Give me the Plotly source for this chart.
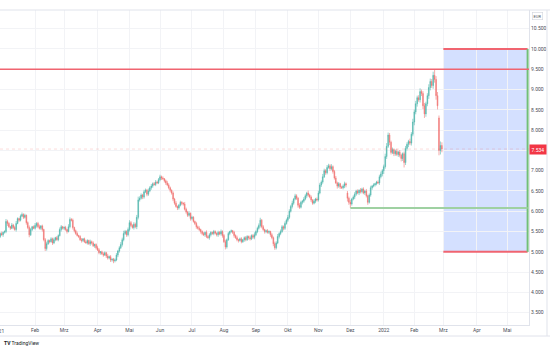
import pandas as pd
import plotly.graph_objects as go

# Daily closes (EUR), Dec 28 2020 .. Feb 28 2022, one value per weekday
closes = [
    5.38, 5.45, 5.42, 5.48,
    5.50, 5.75, 5.70, 5.62, 5.58, 5.66, 5.60, 5.55, 5.70, 5.82, 5.78, 5.88, 5.92, 5.85, 5.90, 5.72, 5.60, 5.42, 5.55, 5.62, 5.58,
    5.65, 5.70, 5.62, 5.58, 5.64, 5.55, 5.30, 5.08, 5.20, 5.28, 5.25, 5.32, 5.22, 5.30, 5.35, 5.30, 5.40, 5.55, 5.62, 5.58,
    5.60, 5.55, 5.50, 5.62, 5.80, 5.78, 5.60, 5.52, 5.45, 5.40, 5.38, 5.30, 5.28, 5.32, 5.25, 5.22, 5.28, 5.20, 5.25, 5.22, 5.15, 5.18, 5.10,
    5.05, 4.98, 5.00, 4.95, 4.92, 4.98, 4.90, 4.85, 4.88, 4.80, 4.82, 4.78, 4.80, 4.92, 5.02, 5.10, 5.18, 5.30, 5.45, 5.50, 5.42, 5.55,
    5.72, 5.65, 5.60, 5.68, 5.62, 5.85, 6.28, 6.32, 6.40, 6.35, 6.48, 6.52, 6.42, 6.50, 6.58, 6.62, 6.68, 6.66, 6.72, 6.70, 6.78,
    6.85, 6.82, 6.80, 6.75, 6.70, 6.65, 6.58, 6.52, 6.45, 6.30, 6.20, 6.12, 6.08, 6.15, 6.22, 6.20, 6.18, 6.05, 5.98, 5.90, 5.95, 5.82,
    5.85, 5.75, 5.70, 5.62, 5.58, 5.55, 5.50, 5.45, 5.42, 5.48, 5.38, 5.35, 5.42, 5.48, 5.45, 5.50, 5.46, 5.42, 5.48, 5.44, 5.50, 5.40,
    5.25, 5.12, 5.30, 5.45, 5.50, 5.52, 5.48, 5.40, 5.35, 5.30, 5.28, 5.32, 5.25, 5.30, 5.35, 5.30, 5.38, 5.35, 5.32, 5.40, 5.36, 5.42,
    5.50, 5.58, 5.65, 5.78, 5.62, 5.55, 5.50, 5.52, 5.48, 5.50, 5.42, 5.35, 5.20, 5.10, 5.22, 5.38, 5.45, 5.50, 5.62, 5.58, 5.70, 5.78,
    5.85, 6.00, 6.12, 6.20, 6.30, 6.38, 6.32, 6.15, 6.10, 6.22, 6.25, 6.30, 6.38, 6.45, 6.40, 6.35, 6.28, 6.20, 6.25, 6.30, 6.28,
    6.45, 6.65, 6.72, 6.85, 7.00, 6.95, 7.08, 7.12, 7.05, 7.10, 6.98, 6.82, 6.70, 6.62, 6.68, 6.60, 6.58, 6.62, 6.68, 6.65, 6.32, 6.22,
    6.18, 6.30, 6.35, 6.42, 6.50, 6.45, 6.52, 6.48, 6.55, 6.45, 6.50, 6.38, 6.22, 6.40, 6.58, 6.62, 6.65, 6.68, 6.72, 6.70, 6.85, 6.92, 7.00,
    7.10, 7.35, 7.60, 7.88, 7.70, 7.45, 7.52, 7.42, 7.48, 7.40, 7.46, 7.38, 7.30, 7.42, 7.20, 7.55, 7.65, 7.72, 7.68, 7.90, 8.20,
    8.45, 8.65, 8.80, 8.75, 8.95, 8.90, 8.60, 8.40, 8.65, 8.85, 9.05, 9.20, 9.10, 9.35, 9.25, 8.85, 8.60, 7.50, 7.62, 7.534,
]
first_open = 5.35
# Sessions that opened away from the previous close (bar index -> open)
gap_opens = {240: 6.45, 303: 8.30}

# Wick lengths above / below the candle body, in cents
upper_wicks = [
    4, 3, 5, 2, 3, 6, 4, 3, 2, 5, 3, 4, 6, 3, 2, 4, 5, 3, 4, 2,
    3, 5, 4, 2, 3, 6, 3, 4, 5, 2, 3, 2, 4, 5, 3, 2, 4, 3, 5, 2,
    4, 3, 5, 4, 2, 3, 4, 2, 6, 5, 3, 4, 2, 3, 5, 2, 3, 4, 2, 3,
    4, 3, 2, 5, 3, 4, 2, 3, 5, 4, 2, 3, 4, 3, 2, 5, 3, 4, 2, 3,
    4, 5, 3, 4, 6, 5, 7, 4, 3, 5, 6, 4, 3, 5, 4, 6, 8, 5, 4, 3,
    5, 4, 3, 6, 4, 5, 3, 4, 5, 3, 4, 5, 3, 4, 2, 3, 5, 4, 3, 2,
    4, 3, 5, 2, 3, 4, 3, 2, 5, 4, 3, 5, 2, 4, 3, 2, 4, 3, 5, 2,
    3, 4, 2, 5, 3, 4, 3, 2, 4, 3, 2, 4, 3, 5, 3, 4, 5, 3, 4, 2,
    3, 2, 4, 3, 5, 2, 3, 4, 2, 3, 4, 3, 2, 5, 3, 4, 6, 3, 4, 5,
    6, 3, 4, 2, 3, 4, 3, 2, 4, 3, 5, 4, 6, 3, 5, 4, 3, 5, 4, 6,
    5, 4, 6, 3, 5, 4, 3, 5, 4, 3, 5, 4, 3, 6, 3, 4, 2, 5, 3, 4,
    6, 5, 4, 7, 5, 4, 6, 5, 4, 6, 3, 4, 5, 3, 4, 2, 3, 4, 5, 3,
    5, 4, 6, 3, 4, 5, 3, 4, 2, 5, 3, 4, 2, 5, 3, 4, 5, 3, 4, 2,
    3, 4, 5, 6, 4, 5, 7, 8, 6, 5, 4, 5, 3, 4, 6, 3, 5, 4, 3, 5,
    6, 5, 4, 7, 5, 8, 6, 7, 5, 6, 8, 5, 6, 7, 5, 6, 8, 7, 6, 9,
    15, 8, 9, 6, 10, 8,
]
lower_wicks = [
    3, 4, 2, 5, 3, 4, 6, 3, 4, 2, 4, 3, 5, 2, 4, 3, 2, 4, 3, 5,
    4, 6, 3, 4, 2, 3, 5, 4, 3, 4, 5, 4, 6, 5, 3, 4, 2, 5, 3, 4,
    3, 4, 2, 5, 3, 4, 3, 5, 2, 4, 3, 5, 4, 3, 2, 4, 3, 5, 4, 3,
    2, 4, 3, 5, 4, 3, 5, 4, 3, 4, 5, 3, 4, 2, 5, 4, 3, 5, 4, 6,
    4, 3, 5, 4, 3, 5, 4, 3, 5, 4, 5, 4, 3, 5, 4, 6, 5, 4, 3, 5,
    4, 3, 5, 4, 3, 5, 4, 3, 4, 3, 3, 4, 5, 3, 4, 5, 3, 4, 5, 4,
    5, 4, 3, 5, 4, 3, 5, 4, 3, 4, 4, 3, 5, 4, 3, 4, 5, 3, 4, 5,
    4, 3, 5, 4, 3, 5, 4, 3, 4, 3, 4, 5, 3, 4, 5, 3, 6, 4, 3, 4,
    3, 4, 5, 3, 4, 5, 3, 4, 3, 5, 4, 3, 5, 4, 3, 4, 5, 3, 4, 3,
    5, 4, 3, 5, 4, 3, 4, 5, 4, 6, 5, 4, 3, 5, 4, 3, 5, 4, 3, 4,
    4, 3, 5, 4, 3, 4, 6, 4, 3, 5, 4, 3, 5, 4, 3, 5, 4, 3, 5, 4,
    4, 3, 5, 4, 3, 5, 4, 3, 5, 4, 5, 4, 3, 6, 4, 5, 3, 4, 5, 6,
    8, 6, 10, 4, 3, 5, 4, 3, 5, 4, 4, 3, 5, 4, 6, 3, 4, 5, 3, 4,
    4, 3, 5, 4, 6, 8, 5, 6, 4, 7, 5, 4, 6, 5, 4, 6, 5, 7, 6, 12,
    6, 5, 7, 5, 6, 5, 8, 6, 7, 5, 7, 6, 8, 10, 7, 6, 8, 7, 6, 8,
    8, 10, 9, 12, 10, 8,
]

# Month ticks (German labels); the year tick of 2021 sits at the left edge
tick_dates = ["2021-02-01", "2021-03-01", "2021-04-01", "2021-05-03",
              "2021-06-01", "2021-07-01", "2021-08-02", "2021-09-01", "2021-10-01",
              "2021-11-01", "2021-12-01", "2022-01-03", "2022-02-01", "2022-03-01",
              "2022-04-01", "2022-05-02"]
tick_labels = ["Feb", "Mrz", "Apr", "Mai", "Jun", "Jul", "Aug", "Sep", "Okt",
               "Nov", "Dez", "2022", "Feb", "Mrz", "Apr", "Mai"]
first_year_label = "2021"

# Drawing levels
resistance = 9.5
support = 6.08
support_start = "2021-12-01"
zone_top, zone_bottom = 10.0, 5.0
zone_start, zone_end = "2022-03-01", "2022-05-20"
last_price = 7.534

dates = pd.bdate_range("2020-12-28", periods=len(closes))
opens = []
for i in range(len(closes)):
    if i in gap_opens:
        opens.append(gap_opens[i])
    elif i == 0:
        opens.append(first_open)
    else:
        opens.append(closes[i - 1])
highs = [max(o, c) + u / 100 for o, c, u in zip(opens, closes, upper_wicks)]
lows = [min(o, c) - d / 100 for o, c, d in zip(opens, closes, lower_wicks)]

UP, DOWN = "#26a69a", "#ef5350"
RED_LINE = "#f06470"
GRID = "#f2f3f6"
TXT = "#4a4d57"

fig = go.Figure()
fig.add_trace(go.Candlestick(
    x=dates, open=opens, high=highs, low=lows, close=closes,
    increasing=dict(line=dict(color=UP, width=0.6), fillcolor=UP),
    decreasing=dict(line=dict(color=DOWN, width=0.6), fillcolor=DOWN),
    whiskerwidth=0, opacity=0.8, showlegend=False, hoverinfo="skip",
))

shapes = [
    # target zone
    dict(type="rect", xref="x", yref="y", x0=zone_start, x1=zone_end,
         y0=zone_bottom, y1=zone_top, fillcolor="rgba(41,98,255,0.2)",
         line=dict(width=0), layer="below"),
    dict(type="line", xref="x", yref="y", x0=zone_start, x1=zone_end,
         y0=zone_top, y1=zone_top, line=dict(color=RED_LINE, width=2)),
    dict(type="line", xref="x", yref="y", x0=zone_start, x1=zone_end,
         y0=zone_bottom, y1=zone_bottom, line=dict(color=RED_LINE, width=2)),
    dict(type="line", xref="x", yref="y", x0=zone_end, x1=zone_end,
         y0=zone_bottom, y1=zone_top, line=dict(color="#72bf78", width=2)),
    # resistance
    dict(type="line", xref="paper", yref="y", x0=0, x1=1,
         y0=resistance, y1=resistance, line=dict(color=RED_LINE, width=1.5)),
    # support
    dict(type="line", xref="x", yref="y", x0=support_start, x1=zone_end,
         y0=support, y1=support, line=dict(color="#9fd1a2", width=2)),
    # last price line
    dict(type="line", xref="paper", yref="y", x0=0, x1=1,
         y0=last_price, y1=last_price,
         line=dict(color="rgba(239,83,80,0.2)", width=1, dash="dot")),
    # frame around the price scale / time scale
    dict(type="line", xref="paper", yref="paper", x0=0, x1=1.04,
         y0=1, y1=1, line=dict(color="#e0e3eb", width=1)),
    dict(type="line", xref="paper", yref="paper", x0=0, x1=1.04,
         y0=-0.035, y1=-0.035, line=dict(color="#e0e3eb", width=1)),
    dict(type="line", xref="paper", yref="paper", x0=1.034, x1=1.034,
         y0=-0.035, y1=1, line=dict(color="#e0e3eb", width=1)),
]

annotations = [
    dict(xref="paper", yref="y", x=1.0, y=last_price, xanchor="left", yanchor="middle",
         text=f"{last_price:.3f}", showarrow=False, bgcolor="#f23645",
         font=dict(color="white", size=5), borderpad=1.5),
    dict(xref="paper", yref="paper", x=1.017, y=0.982, xanchor="center", yanchor="middle",
         text="EUR", showarrow=False, font=dict(color=TXT, size=4),
         bordercolor="#d1d4dc", borderwidth=0.6, borderpad=1),
    dict(xref="paper", yref="paper", x=-0.003, y=-0.0175, xanchor="center", yanchor="middle",
         text=first_year_label, showarrow=False, font=dict(color=TXT, size=5)),
    dict(xref="paper", yref="paper", x=0.004, y=-0.057, xanchor="left", yanchor="middle",
         text="<b>TV</b> TradingView", showarrow=False, font=dict(color="#131722", size=5)),
]

fig.update_layout(
    width=550, height=350,
    margin=dict(l=0, r=21, t=10, b=25),
    paper_bgcolor="white", plot_bgcolor="white",
    font=dict(family="Roboto", color=TXT, size=5),
    shapes=shapes, annotations=annotations,
    xaxis=dict(
        range=["2020-12-28 21:00", "2022-05-20 23:00"],
        rangebreaks=[dict(bounds=["sat", "mon"])],
        rangeslider=dict(visible=False),
        tickvals=tick_dates, ticktext=tick_labels,
        showgrid=True, gridcolor=GRID, gridwidth=1,
        showline=True, linecolor="#e0e3eb", linewidth=1,
        ticks="", tickfont=dict(size=5, color=TXT), zeroline=False,
    ),
    yaxis=dict(
        side="right", range=[3.197, 10.961],
        tickvals=[3.5 + 0.5 * k for k in range(15)], tickformat=".3f",
        showgrid=True, gridcolor=GRID, gridwidth=1,
        showline=True, linecolor="#e0e3eb", linewidth=1,
        ticks="", tickfont=dict(size=5, color=TXT), zeroline=False,
    ),
)

fig.write_html("out.html")
